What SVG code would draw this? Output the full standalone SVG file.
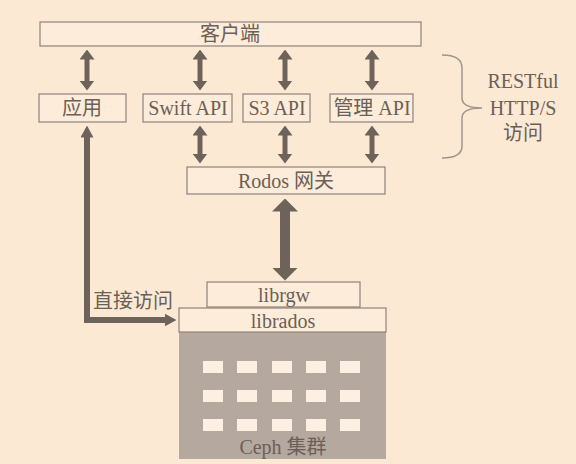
<svg xmlns="http://www.w3.org/2000/svg" width="576" height="464" viewBox="0 0 576 464">
<style>
.box{fill:#fdecd9;stroke:#8e837a;stroke-width:1.2}
.t{font-family:"Liberation Serif","Noto Sans CJK SC",serif;font-size:20px;fill:#6a6058;text-anchor:middle}
.a{stroke:#6e635b;fill:none}
.cell{fill:#fdf0e2}
</style>
<defs>
<marker id="hs" viewBox="0 0 10 15" refX="0.5" refY="7.5" markerWidth="10" markerHeight="15" markerUnits="userSpaceOnUse" orient="auto-start-reverse"><path d="M0,0 L10,7.5 L0,15 z" fill="#6e635b"/></marker>
<marker id="hm" viewBox="0 0 12 13" refX="0.5" refY="6.5" markerWidth="12" markerHeight="13" markerUnits="userSpaceOnUse" orient="auto-start-reverse"><path d="M0,0 L12,6.5 L0,13 z" fill="#6e635b"/></marker>
<marker id="hb" viewBox="0 0 13 26" refX="0.5" refY="13" markerWidth="13" markerHeight="26" markerUnits="userSpaceOnUse" orient="auto-start-reverse"><path d="M0,0 L13,13 L0,26 z" fill="#6e635b"/></marker>
</defs>
<rect width="576" height="464" fill="#fce9d4"/>
<g id="client"><rect class="box" x="40" y="22" width="381" height="24"/><text class="t" x="230" y="41">客户端</text></g>
<g id="app"><rect class="box" x="39" y="94" width="87" height="28"/><text class="t" x="82" y="115">应用</text></g>
<g id="swift"><rect class="box" x="143" y="94" width="89" height="28"/><text class="t" x="188" y="115">Swift API</text></g>
<g id="s3"><rect class="box" x="243" y="94" width="67" height="28"/><text class="t" x="277" y="115">S3 API</text></g>
<g id="admin"><rect class="box" x="330" y="94" width="83" height="28"/><text class="t" x="372" y="115">管理 API</text></g>
<g id="gateway"><rect class="box" x="187" y="167" width="198" height="27"/><text class="t" x="286" y="188">Rodos 网关</text></g>
<g id="librgw"><rect class="box" x="207" y="282" width="153" height="25"/><text class="t" x="284" y="302">librgw</text></g>
<g id="cluster">
<rect x="179" y="332" width="207" height="127" fill="#b5a89e"/>
<g class="cell">
<rect x="203" y="361" width="20" height="12"/><rect x="237" y="361" width="20" height="12"/><rect x="272" y="361" width="20" height="12"/><rect x="306" y="361" width="20" height="12"/><rect x="340" y="361" width="20" height="12"/>
<rect x="203" y="390" width="20" height="12"/><rect x="237" y="390" width="20" height="12"/><rect x="272" y="390" width="20" height="12"/><rect x="306" y="390" width="20" height="12"/><rect x="340" y="390" width="20" height="12"/>
<rect x="203" y="419" width="20" height="12"/><rect x="237" y="419" width="20" height="12"/><rect x="272" y="419" width="20" height="12"/><rect x="306" y="419" width="20" height="12"/><rect x="340" y="419" width="20" height="12"/>
</g>
<text class="t" x="283" y="454">Ceph 集群</text>
</g>
<g id="librados"><rect class="box" x="179" y="308" width="207" height="24"/><text class="t" x="283" y="328">librados</text></g>
<g id="restful">
<path d="M442,55 Q462,55 462,68 V98 Q462,108 482,108 Q462,108 462,118 V146 Q462,158 442,158" fill="none" stroke="#a0958c" stroke-width="1.5"/>
<text class="t" x="523" y="88">RESTful</text>
<text class="t" x="523" y="115">HTTP/S</text>
<text class="t" x="523" y="140">访问</text>
</g>
<g id="connectors">
<path class="a" stroke-width="5" d="M87,59 V81" marker-start="url(#hs)" marker-end="url(#hs)"/>
<path class="a" stroke-width="5" d="M200,59 V81" marker-start="url(#hs)" marker-end="url(#hs)"/>
<path class="a" stroke-width="5" d="M285,59 V81" marker-start="url(#hs)" marker-end="url(#hs)"/>
<path class="a" stroke-width="5" d="M372,59 V81" marker-start="url(#hs)" marker-end="url(#hs)"/>
<path class="a" stroke-width="5" d="M200,135 V154" marker-start="url(#hs)" marker-end="url(#hs)"/>
<path class="a" stroke-width="5" d="M285,135 V154" marker-start="url(#hs)" marker-end="url(#hs)"/>
<path class="a" stroke-width="5" d="M372,135 V154" marker-start="url(#hs)" marker-end="url(#hs)"/>
<path class="a" stroke-width="10" d="M285,211 V268" marker-start="url(#hb)" marker-end="url(#hb)"/>
<path class="a" stroke-width="6" d="M87,137 V320 H165" marker-start="url(#hm)" marker-end="url(#hm)"/>
<text class="t" x="133" y="308">直接访问</text>
</g>
</svg>
